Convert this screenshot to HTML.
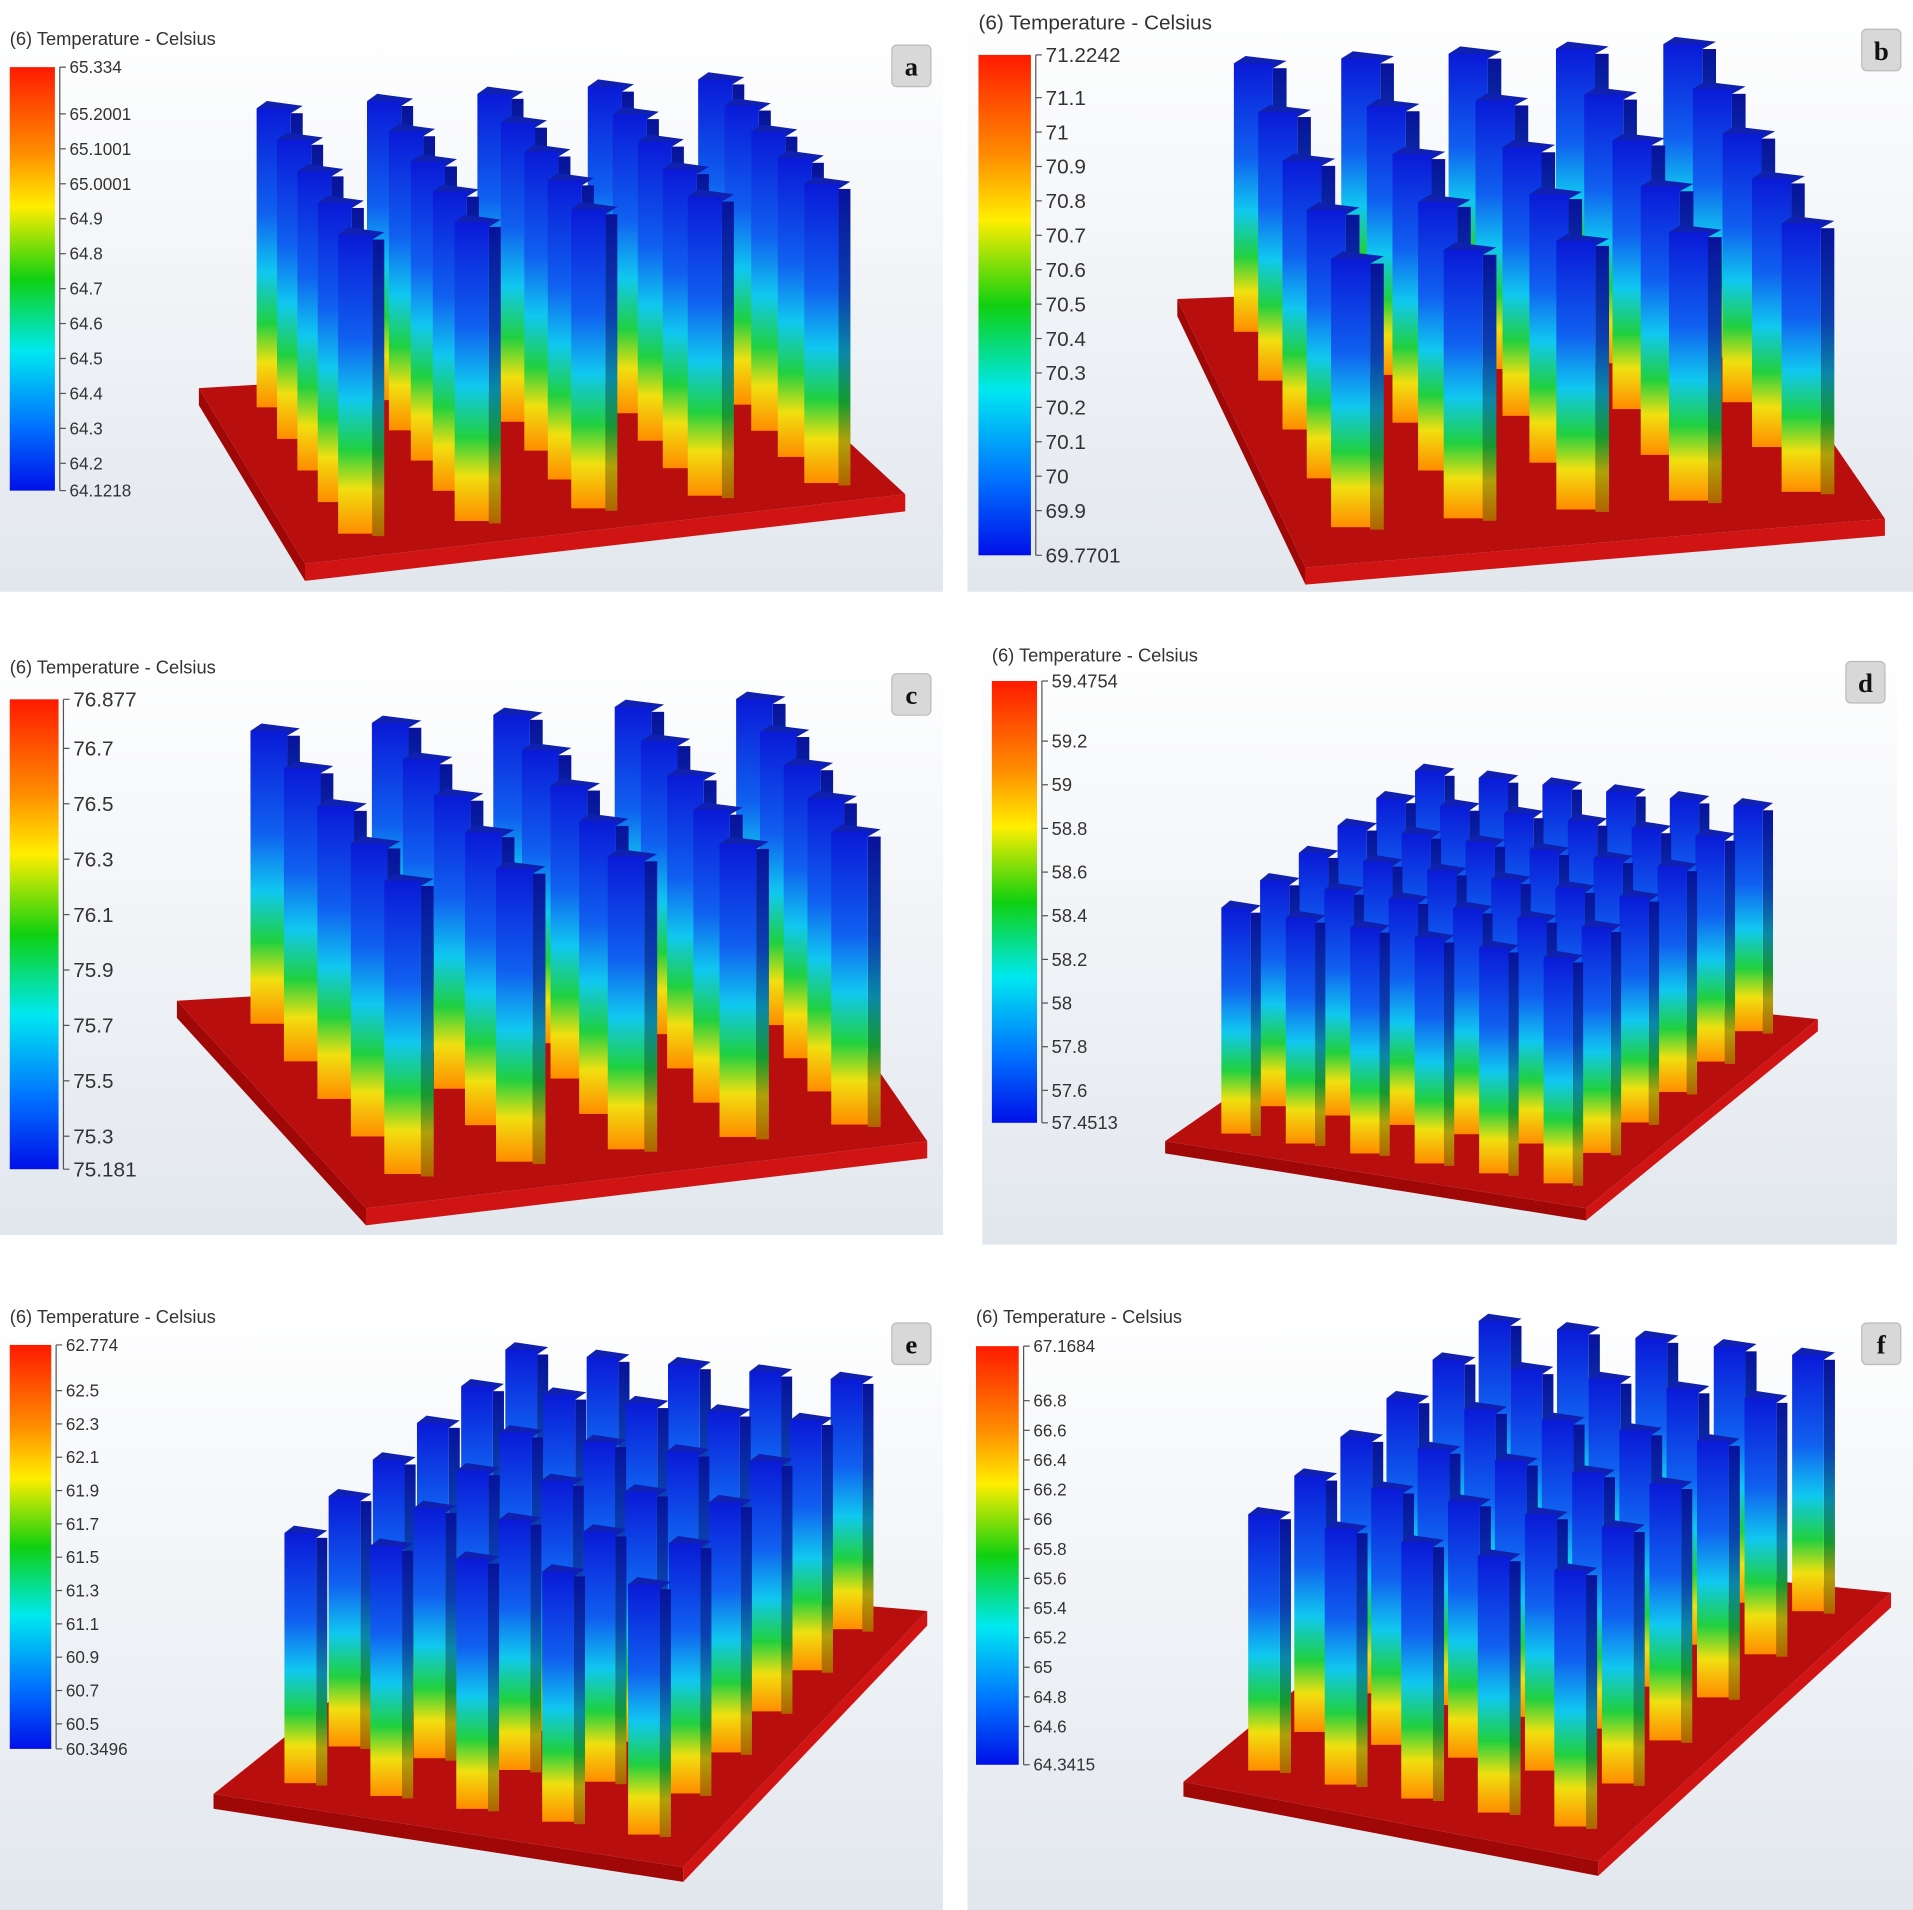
<!DOCTYPE html>
<html><head><meta charset="utf-8"><style>
html,body{margin:0;padding:0;background:#fff;}
svg{display:block;font-family:"Liberation Sans",sans-serif;}
</style></head><body>
<svg id="fig" width="1913" height="1910" viewBox="0 0 1568 1565" preserveAspectRatio="none" xmlns="http://www.w3.org/2000/svg">
<defs>
<linearGradient id="cbar" x1="0" y1="0" x2="0" y2="1">
<stop offset="0" stop-color="#ff1a00"/><stop offset="0.2" stop-color="#ff8c00"/><stop offset="0.33" stop-color="#ffee00"/><stop offset="0.5" stop-color="#10d010"/><stop offset="0.67" stop-color="#00e8f0"/><stop offset="0.85" stop-color="#0070ff"/><stop offset="1" stop-color="#0010e8"/>
</linearGradient>
<linearGradient id="pin" x1="0" y1="0" x2="0" y2="1">
<stop offset="0" stop-color="#0a1ad8"/><stop offset="0.35" stop-color="#1060f0"/><stop offset="0.55" stop-color="#10c8f0"/><stop offset="0.72" stop-color="#20d040"/><stop offset="0.85" stop-color="#f0e010"/><stop offset="1" stop-color="#ff8c00"/>
</linearGradient>
<linearGradient id="pinS" x1="0" y1="0" x2="0" y2="1">
<stop offset="0" stop-color="#08129a"/><stop offset="0.35" stop-color="#0a40b0"/><stop offset="0.55" stop-color="#0a88a8"/><stop offset="0.72" stop-color="#159a30"/><stop offset="0.85" stop-color="#b0a00a"/><stop offset="1" stop-color="#b06400"/>
</linearGradient>
<linearGradient id="bg" x1="0" y1="0" x2="0" y2="1">
<stop offset="0" stop-color="#ffffff"/><stop offset="1" stop-color="#e2e7ee"/>
</linearGradient>
</defs>
</svg>
<script>
const svg=document.getElementById('fig');
const NS='http://www.w3.org/2000/svg';
function mk(tag,attrs,parent){const e=document.createElementNS(NS,tag);for(const k in attrs)e.setAttribute(k,attrs[k]);(parent||svg).appendChild(e);return e;}

// Colorbar data
const ticksA=[65.334,65.2001,65.1001,65.0001,64.9,64.8,64.7,64.6,64.5,64.4,64.3,64.2,64.1218];
const ticksB=[71.2242,71.1,71,70.9,70.8,70.7,70.6,70.5,70.4,70.3,70.2,70.1,70,69.9,69.7701];
const ticksC=[76.877,76.7,76.5,76.3,76.1,75.9,75.7,75.5,75.3,75.181];
const ticksD=[59.4754,59.2,59,58.8,58.6,58.4,58.2,58,57.8,57.6,57.4513];
const ticksE=[62.774,62.5,62.3,62.1,61.9,61.7,61.5,61.3,61.1,60.9,60.7,60.5,60.3496];
const ticksF=[67.1684,66.8,66.6,66.4,66.2,66,65.8,65.6,65.4,65.2,65,64.8,64.6,64.3415];

const panels=[
 {id:'a',box:[0,15,773,470],bar:[8,55,37,347],ticks:ticksA,fs:14,
  plate:[[163,318],[620,292],[742,405],[250,462]],th:14,nr:5,nc:5,ph:245,pw:28},
 {id:'b',box:[793,0,775,485],bar:[802,45,43,410],ticks:ticksB,fs:17,
  plate:[[965,245],[1410,228],[1545,425],[1070,465]],th:14,nr:5,nc:5,ph:220,pw:32},
 {id:'c',box:[0,530,773,482],bar:[8,573,40,385],ticks:ticksC,fs:17,
  plate:[[145,820],[660,790],[760,935],[300,990]],th:14,nr:5,nc:5,ph:240,pw:30},
 {id:'d',box:[805,520,750,500],bar:[813,558,37,362],ticks:ticksD,fs:15,
  plate:[[955,935],[1150,800],[1490,835],[1300,990]],th:10,nr:6,nc:6,ph:185,pw:24},
 {id:'e',box:[0,1062,773,503],bar:[8,1102,34,331],ticks:ticksE,fs:14,
  plate:[[175,1470],[400,1290],[760,1320],[560,1530]],th:12,nr:5,nc:6,ph:205,pw:26},
 {id:'f',box:[793,1062,775,503],bar:[800,1103,35,343],ticks:ticksF,fs:14,
  plate:[[970,1460],[1200,1270],[1550,1305],[1310,1525]],th:12,nr:5,nc:6,ph:210,pw:26}
];

function lerp(a,b,t){return [a[0]+(b[0]-a[0])*t,a[1]+(b[1]-a[1])*t];}

panels.forEach(p=>{
 const g=mk('g',{});
 
 
 const [bx,by,bw,bh]=p.box;
 const cp=mk('clipPath',{id:'clip-'+p.id},g);
 mk('rect',{x:bx,y:by,width:bw,height:bh},cp);
 g.setAttribute('clip-path','url(#clip-'+p.id+')');
 const bgR=mk('rect',{x:bx,y:by,width:bw,height:bh,fill:'url(#bg)'},g);
 
 
 const t=mk('text',{x:p.bar[0],y:p.box[1]+(p.id==='b'?24:22),'font-size':p.id==='b'?17:15,fill:'#333'},g);
 t.textContent='(6) Temperature - Celsius';
 
 
 const [cx,cy,cw,ch]=p.bar;
 const cb=mk('rect',{x:cx,y:cy,width:cw,height:ch,fill:'url(#cbar)'},g);
 
 
 const mx=p.ticks[0],mn=p.ticks[p.ticks.length-1];
 const yS=v=>cy+ch-(v-mn)/(mx-mn)*ch;
 mk('line',{x1:cx+cw+4,y1:cy,x2:cx+cw+4,y2:cy+ch,stroke:'#555','stroke-width':1},g);
 p.ticks.forEach(v=>{
  const y=yS(v);
  mk('line',{x1:cx+cw+4,y1:y,x2:cx+cw+9,y2:y,stroke:'#555','stroke-width':1},g);
  const tl=mk('text',{x:cx+cw+12,y:y+p.fs*0.35,'font-size':p.fs,fill:'#333'},g);
  tl.textContent=String(v);
  
  
 });
 const [BL,BR,FR,FL]=p.plate;
 const th=p.th;
 mk('polygon',{points:[FL,FR,[FR[0],FR[1]+th],[FL[0],FL[1]+th]].map(q=>q.join(',')).join(' '),fill:'#d01414'},g);
 mk('polygon',{points:[BL,FL,[FL[0],FL[1]+th],[BL[0],BL[1]+th]].map(q=>q.join(',')).join(' '),fill:'#a00808'},g);
 const pl=mk('polygon',{points:[BL,BR,FR,FL].map(q=>q.join(',')).join(' '),fill:'#b80e0e'},g);
 
 
 const pins=[];
 for(let r=0;r<p.nr;r++)for(let c=0;c<p.nc;c++){
  const u=(c+0.5)/p.nc*0.98+0.01, v=(r+0.5)/p.nr*0.92+0.04;
  const back=lerp(BL,BR,u), front=lerp(FL,FR,u);
  pins.push(lerp(back,front,v));
 }
 pins.sort((a,b)=>a[1]-b[1]);
 pins.forEach(q=>{
  const w=p.pw,h=p.ph,x=q[0]-w/2,yb=q[1];
  mk('rect',{x:x+w,y:yb-h+4,width:w*0.35,height:h-2,fill:'url(#pinS)'},g);
  mk('polygon',{points:`${x},${yb-h} ${x+w*0.3},${yb-h-6} ${x+w*1.35},${yb-h-2} ${x+w},${yb-h+4}`,fill:'#1020b0'},g);
  const pr=mk('rect',{x:x,y:yb-h,width:w,height:h,fill:'url(#pin)'},g);
  
  
 });
 const bxx=bx+bw-42, byy=by+(p.id==='b'?24:22);
 mk('rect',{x:bxx,y:byy,width:32,height:34,rx:4,fill:'#d8d8d8',stroke:'#bbb'},g);
 const lt=mk('text',{x:bxx+16,y:byy+25,'font-size':22,'font-weight':'bold','text-anchor':'middle','font-family':'Liberation Serif, serif',fill:'#111'},g);
 lt.textContent=p.id;
 
 
});
</script>
</body></html>
